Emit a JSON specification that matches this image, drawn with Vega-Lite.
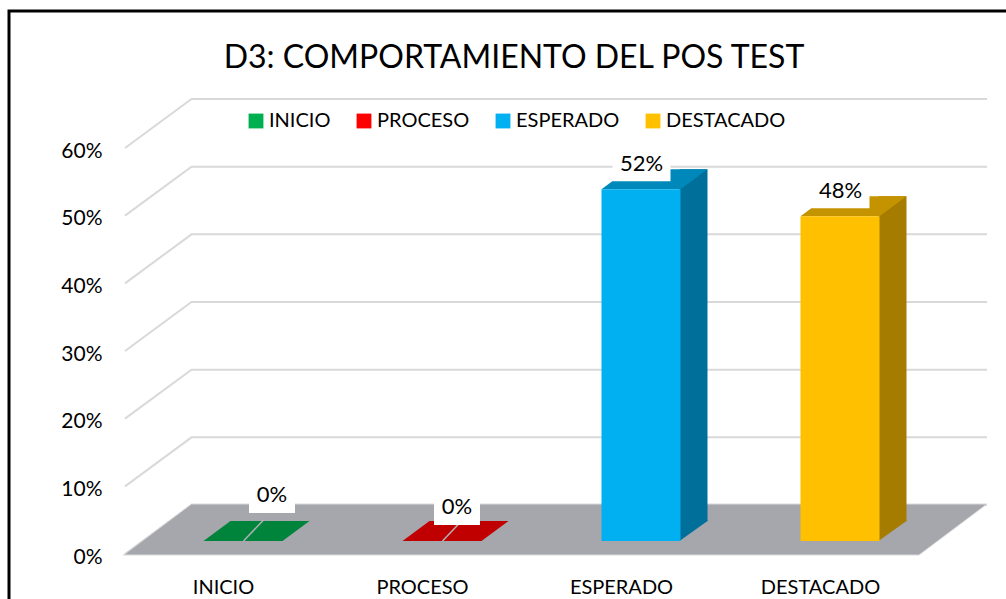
{
"$schema":"https://vega.github.io/schema/vega-lite/v6.json",
"width":796,"height":406,
"autosize":{"type":"none"},
"padding":{"left":124,"top":149,"right":86,"bottom":44},
"background":"white",
"title":{"text":"D3: COMPORTAMIENTO DEL POS TEST","font":"Lato","fontSize":32,"fontWeight":"normal","color":"#000000","anchor":"middle","dx":-8,"offset":-70},
"datasets":{
"niveles":[{"nivel":"INICIO","valor":0},{"nivel":"PROCESO","valor":0},{"nivel":"ESPERADO","valor":0.52},{"nivel":"DESTACADO","valor":0.48}],
"ticks":[{"t":0},{"t":0.1},{"t":0.2},{"t":0.3},{"t":0.4},{"t":0.5},{"t":0.6}],
"ancla":[{"t":0}]
},
"config":{"view":{"stroke":null}},
"resolve":{"scale":{"color":"independent"}},
"layer":[
{"data":{"name":"ancla"},"mark":{"type":"point","shape":"M-214.5 60L-214.5 -544L800 -544","size":4,"filled":false,"stroke":"#000000","strokeWidth":3,"opacity":1},
 "encoding":{"x":{"datum":"INICIO","type":"nominal","scale":{"domain":["INICIO","PROCESO","ESPERADO","DESTACADO"],"paddingInner":0,"paddingOuter":0},"axis":{"title":null,"labelAngle":0,"domain":false,"ticks":false,"labelFont":"Lato","labelFontSize":20,"labelColor":"#000000","labelPadding":22}},
 "y":{"field":"t","type":"quantitative","scale":{"domain":[0,0.6],"nice":false},"axis":{"title":null,"values":[0,0.1,0.2,0.3,0.4,0.5,0.6],"format":".0%","grid":false,"domain":false,"ticks":false,"labelFont":"Lato","labelFontSize":21,"labelColor":"#000000","labelPadding":22,"labelOffset":2}}}},
{"data":{"name":"ticks"},"mark":{"type":"point","shape":"M-98.5 -1L-32 -50L763.5 -50","size":4,"filled":false,"stroke":"#D9D9D9","strokeWidth":2,"opacity":1},
 "encoding":{"x":{"datum":"INICIO","type":"nominal"},"y":{"field":"t","type":"quantitative"}}},
{"data":{"name":"ancla"},"mark":{"type":"point","shape":"M-100 0L695.5 0L763.5 -51L-32 -51Z","size":4,"filled":true,"fill":"#A5A7AD","stroke":"#D9D9D9","strokeWidth":1,"opacity":1},
 "encoding":{"x":{"datum":"INICIO","type":"nominal"},"y":{"field":"t","type":"quantitative"}}},
{"data":{"name":"niveles"},"transform":[{"filter":"datum.valor>0"}],"mark":{"type":"bar","width":28,"xOffset":72,"x2Offset":72,"yOffset":-34,"y2Offset":-34,"orient":"vertical"},
 "encoding":{"x":{"field":"nivel","type":"nominal"},"y":{"field":"valor","type":"quantitative"},
 "color":{"field":"nivel","type":"nominal","legend":null,"scale":{"domain":["ESPERADO","DESTACADO"],"range":["#006F99","#A67C00"]}}}},
{"data":{"name":"niveles"},"transform":[{"filter":"datum.valor>0"}],"mark":{"type":"point","shape":"M38 0L66 -20L66 -21L38 -21Z","size":4,"filled":true,"xOffset":20,"yOffset":-14,"opacity":1,"strokeWidth":0},
 "encoding":{"x":{"field":"nivel","type":"nominal"},"y":{"datum":0,"type":"quantitative"},
 "color":{"field":"nivel","type":"nominal","legend":null,"scale":{"domain":["ESPERADO","DESTACADO"],"range":["#006F99","#A67C00"]}}}},
{"data":{"name":"niveles"},"mark":{"type":"point","shape":"M-40 0L39 0L66 -20L-13 -20Z","size":4,"filled":true,"xOffset":20,"yOffset":-14,"opacity":1,"strokeWidth":0},
 "encoding":{"x":{"field":"nivel","type":"nominal"},"y":{"field":"valor","type":"quantitative"},
 "color":{"field":"nivel","type":"nominal","legend":null,"scale":{"domain":["INICIO","PROCESO","ESPERADO","DESTACADO"],"range":["#00843C","#C00000","#0088BA","#C49300"]}}}},
{"data":{"name":"niveles"},"transform":[{"filter":"datum.valor==0"}],"mark":{"type":"point","shape":"M0 0L20 -21","size":4,"filled":false,"stroke":"#B0B2B6","strokeWidth":1.5,"xOffset":20,"yOffset":-14,"opacity":1},
 "encoding":{"x":{"field":"nivel","type":"nominal"},"y":{"field":"valor","type":"quantitative"}}},
{"data":{"name":"niveles"},"mark":{"type":"bar","width":79,"xOffset":19.5,"x2Offset":19.5,"yOffset":-14,"y2Offset":-14,"orient":"vertical"},
 "encoding":{"x":{"field":"nivel","type":"nominal"},"y":{"field":"valor","type":"quantitative"},
 "color":{"field":"nivel","type":"nominal","sort":null,"scale":{"domain":["INICIO","PROCESO","ESPERADO","DESTACADO"],"range":["#00B050","#FF0000","#00B0F0","#FFC000"]},
 "legend":{"title":null,"orient":"none","legendX":122,"legendY":-38,"direction":"horizontal","columns":4,"symbolType":"square","symbolSize":220,"symbolStrokeWidth":0,"labelFont":"Lato","labelFontSize":20,"labelColor":"#000000","columnPadding":23,"labelOffset":3}}}},
{"data":{"name":"niveles"},"transform":[{"filter":"datum.valor>0"}],"mark":{"type":"point","shape":"M-29 -16L29 -16L29 18L-29 18Z","size":4,"filled":true,"fill":"#FFFFFF","strokeWidth":0,"opacity":1,"xOffset":20,"yOffset":-40},
 "encoding":{"x":{"field":"nivel","type":"nominal"},"y":{"field":"valor","type":"quantitative"}}},
{"data":{"name":"niveles"},"transform":[{"filter":"datum.valor>0"}],"mark":{"type":"text","font":"Lato","fontSize":22,"color":"#000000","xOffset":20,"yOffset":-39,"baseline":"middle"},
 "encoding":{"x":{"field":"nivel","type":"nominal"},"y":{"field":"valor","type":"quantitative"},"text":{"field":"valor","type":"quantitative","format":".0%"}}},
{"data":{"name":"niveles"},"transform":[{"filter":"datum.nivel=='INICIO'"}],"mark":{"type":"point","shape":"M-23 -16L23 -16L23 18L-23 18Z","size":4,"filled":true,"fill":"#FFFFFF","strokeWidth":0,"opacity":1,"xOffset":48.5,"yOffset":-60},
 "encoding":{"x":{"field":"nivel","type":"nominal"},"y":{"field":"valor","type":"quantitative"}}},
{"data":{"name":"niveles"},"transform":[{"filter":"datum.nivel=='INICIO'"}],"mark":{"type":"text","font":"Lato","fontSize":22,"color":"#000000","xOffset":48.5,"yOffset":-60,"baseline":"middle"},
 "encoding":{"x":{"field":"nivel","type":"nominal"},"y":{"field":"valor","type":"quantitative"},"text":{"field":"valor","type":"quantitative","format":".0%"}}},
{"data":{"name":"niveles"},"transform":[{"filter":"datum.nivel=='PROCESO'"}],"mark":{"type":"point","shape":"M-23 -16L23 -16L23 18L-23 18Z","size":4,"filled":true,"fill":"#FFFFFF","strokeWidth":0,"opacity":1,"xOffset":34.5,"yOffset":-48},
 "encoding":{"x":{"field":"nivel","type":"nominal"},"y":{"field":"valor","type":"quantitative"}}},
{"data":{"name":"niveles"},"transform":[{"filter":"datum.nivel=='PROCESO'"}],"mark":{"type":"text","font":"Lato","fontSize":22,"color":"#000000","xOffset":34.5,"yOffset":-48,"baseline":"middle"},
 "encoding":{"x":{"field":"nivel","type":"nominal"},"y":{"field":"valor","type":"quantitative"},"text":{"field":"valor","type":"quantitative","format":".0%"}}}
]
}
